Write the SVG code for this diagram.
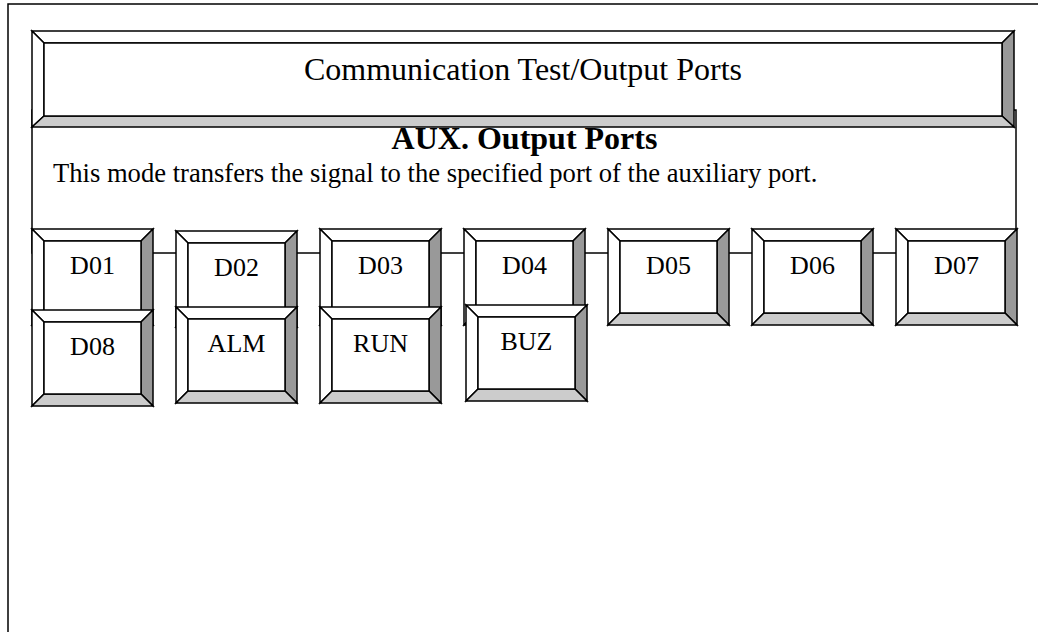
<svg xmlns="http://www.w3.org/2000/svg" xmlns:xlink="http://www.w3.org/1999/xlink" width="1038" height="632" viewBox="0 0 1038 632">
<style>
.s{stroke:#000;stroke-width:1.5;stroke-linejoin:miter}
.w{fill:#fff}
.d{fill:#999}
.l{fill:#ccc}
.t{font-family:"Liberation Serif","Times New Roman",serif;fill:#000}
.lbl{font-size:26px;text-anchor:middle}
</style>
<defs>
<g id="btn">
<polygon class="s w" points="0,0 121,0 109,12 12,12"/>
<polygon class="s w" points="0,0 12,12 12,84 0,96"/>
<polygon class="s d" points="121,0 121,96 109,84 109,12"/>
<polygon class="s l" points="0,96 121,96 109,84 12,84"/>
<rect class="s w" x="12" y="12" width="97" height="72"/>
</g>
</defs>
<rect width="1038" height="632" fill="#fff"/>
<g id="frame">
<rect class="s" fill="none" x="8" y="4" width="1100" height="700"/>
</g>
<g id="connectors">
<rect id="content" class="s" fill="none" x="32" y="110" width="984" height="143"/>
</g>
<g id="title">
<polygon class="s w" points="32,31 1014,31 1002,43 44,43"/>
<polygon class="s w" points="32,31 44,43 44,116 32,127"/>
<polygon class="s d" points="1014,31 1014,127 1002,116 1002,43"/>
<polygon class="s l" points="32,127 1014,127 1002,116 44,116"/>
<rect class="s w" x="44" y="43" width="958" height="73"/>
<text class="t" x="523" y="80" font-size="32" text-anchor="middle">Communication Test/Output Ports</text>
</g>
<g id="aux">
<text class="t" x="524.5" y="149" font-size="32" font-weight="bold" text-anchor="middle">AUX. Output Ports</text>
<text class="t" x="53" y="182" font-size="26.6">This mode transfers the signal to the specified port of the auxiliary port.</text>
</g>
<g id="D01"><use xlink:href="#btn" x="32" y="229"/><text class="t lbl" x="92.5" y="274">D01</text></g>
<g id="D02"><use xlink:href="#btn" x="176" y="231"/><text class="t lbl" x="236.5" y="276">D02</text></g>
<g id="D03"><use xlink:href="#btn" x="320" y="229"/><text class="t lbl" x="380.5" y="274">D03</text></g>
<g id="D04"><use xlink:href="#btn" x="464" y="229"/><text class="t lbl" x="524.5" y="274">D04</text></g>
<g id="D05"><use xlink:href="#btn" x="608" y="229"/><text class="t lbl" x="668.5" y="274">D05</text></g>
<g id="D06"><use xlink:href="#btn" x="752" y="229"/><text class="t lbl" x="812.5" y="274">D06</text></g>
<g id="D07"><use xlink:href="#btn" x="896" y="229"/><text class="t lbl" x="956.5" y="274">D07</text></g>
<g id="D08"><use xlink:href="#btn" x="32" y="310"/><text class="t lbl" x="92.5" y="355">D08</text></g>
<g id="ALM"><use xlink:href="#btn" x="176" y="307"/><text class="t lbl" x="236.5" y="352">ALM</text></g>
<g id="RUN"><use xlink:href="#btn" x="320" y="307"/><text class="t lbl" x="380.5" y="352">RUN</text></g>
<g id="BUZ"><use xlink:href="#btn" x="466" y="305"/><text class="t lbl" x="526.5" y="350">BUZ</text></g>
</svg>
